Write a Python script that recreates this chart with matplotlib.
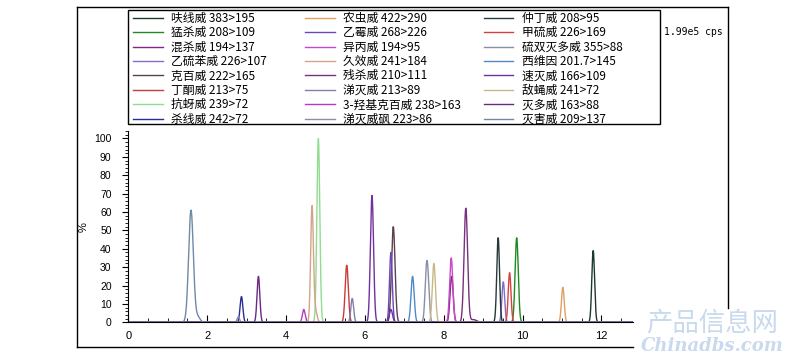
import numpy as np
import matplotlib
matplotlib.use("Agg")
import matplotlib.pyplot as plt
from matplotlib.ticker import MultipleLocator
from matplotlib.lines import Line2D
from matplotlib.patches import Rectangle

# =============================================================================
# MRM chromatogram of 24 carbamate pesticides
# =============================================================================

# -----------------------------
# Compounds (legend order, filled column by column)
# -----------------------------
compounds = [
    "呋线威 383>195", "猛杀威 208>109", "混杀威 194>137", "乙硫苯威 226>107",
    "克百威 222>165", "丁酮威 213>75", "抗蚜威 239>72", "杀线威 242>72",
    "农虫威 422>290", "乙霉威 268>226", "异丙威 194>95", "久效威 241>184",
    "残杀威 210>111", "涕灭威 213>89", "3-羟基克百威 238>163", "涕灭威砜 223>86",
    "仲丁威 208>95", "甲硫威 226>169", "硫双灭多威 355>88", "西维因 201.7>145",
    "速灭威 166>109", "敌蝇威 241>72", "灭多威 163>88", "灭害威 209>137",
]
colors = [
    "#1c3a2c", "#208a20", "#802880", "#8070c8",
    "#5a4050", "#c83c3c", "#90dc90", "#2b2b9a",
    "#e0a060", "#6a48b8", "#c848c8", "#d4a488",
    "#7a3080", "#8080b0", "#b040c0", "#8890a0",
    "#283838", "#d84040", "#8890a8", "#5088c8",
    "#7030a0", "#c8b888", "#6a2a80", "#6f8aa6",
]

# -----------------------------
# Peaks: retention time (min), height (%), width (min)
# -----------------------------
peak_times = [
    [11.79], [9.85], [8.20], [9.51],
    [6.72], [5.54], [4.82], [2.87],
    [11.02], [6.66], [8.19], [4.66, 4.75],
    [8.56, 8.75], [5.68], [4.45], [2.79],
    [9.38], [9.67], [7.57, 7.62], [7.21],
    [6.18, 6.66], [7.75], [3.30], [1.59, 1.76],
]
peak_heights = [
    [39], [46], [25], [22],
    [52], [31], [100], [14],
    [19], [38], [35], [63, 6],
    [62, 1.5], [13], [7], [3],
    [46], [27], [32, 6], [25],
    [69, 7], [32], [25], [61, 3],
]
peak_widths = [
    [0.035], [0.04], [0.04], [0.035],
    [0.045], [0.04], [0.037], [0.035],
    [0.035], [0.035], [0.04], [0.035, 0.04],
    [0.045, 0.08], [0.035], [0.035], [0.03],
    [0.035], [0.035], [0.04, 0.03], [0.04],
    [0.04, 0.04], [0.04], [0.035], [0.06, 0.06],
]

x_ticks = [0, 2, 4, 6, 8, 10, 12]
y_ticks = [0, 10, 20, 30, 40, 50, 60, 70, 80, 90, 100]

plt.rcParams["font.family"] = ["Liberation Sans", "DejaVu Sans"]

fig = plt.figure(figsize=(7.89, 3.58), dpi=100)
ax = fig.add_axes([0.1626, 0.0997, 0.6397, 0.534])

time = np.linspace(0, 12.8, 4000)
handles = []
for name, col, ts, hs, ws in zip(compounds, colors, peak_times, peak_heights, peak_widths):
    trace = np.zeros_like(time)
    for t, h, w in zip(ts, hs, ws):
        trace += h * np.exp(-0.5 * ((time - t) / w) ** 2)
    (ln,) = ax.plot(time, trace, color=col, linewidth=1.0)
    handles.append(ln)

ax.set_xlim(0, 12.8)
ax.set_ylim(0, 104)
ax.set_xticks(x_ticks)
ax.set_yticks(y_ticks)
ax.xaxis.set_minor_locator(MultipleLocator(0.5))
ax.yaxis.set_minor_locator(MultipleLocator(2))
ax.tick_params(axis="x", direction="in", length=5, labelsize=8, pad=6)
ax.tick_params(axis="x", which="minor", direction="in", length=3)
ax.tick_params(axis="y", direction="out", length=4, labelsize=7.5, pad=8)
ax.tick_params(axis="y", which="minor", direction="out", length=2)
for side in ["top", "right"]:
    ax.spines[side].set_visible(False)
ax.spines["left"].set_linewidth(0.8)
ax.spines["bottom"].set_linewidth(0.8)
ax.set_ylabel("%", fontsize=8, labelpad=4)

# Legend: three columns placed one by one, with a shared frame
col_x = [0.1686, 0.3866, 0.6134]
for i, x0 in enumerate(col_x):
    fig.legend(
        handles[8 * i:8 * i + 8], compounds[8 * i:8 * i + 8],
        loc="upper left", bbox_to_anchor=(x0, 0.967), borderaxespad=0,
        frameon=False, borderpad=0,
        prop={"family": ["Noto Sans CJK SC", "DejaVu Sans"], "size": 8.5},
        labelspacing=0.12, handlelength=2.5, handletextpad=0.75,
    )
fig.add_artist(Rectangle((0.1622, 0.6536), 0.6743, 0.3184, transform=fig.transFigure,
                         fill=False, edgecolor="black", linewidth=1.0))

fig.text(0.841, 0.91, "1.99e5 cps", fontsize=7, family="DejaVu Sans Mono", va="center")

# Outer frame (bottom-right corner hidden by watermark)
frame = dict(color="black", linewidth=1.0, transform=fig.transFigure)
fig.add_artist(Line2D([0.0976, 0.9227], [0.980, 0.980], **frame))
fig.add_artist(Line2D([0.0976, 0.0976], [0.980, 0.0307], **frame))
fig.add_artist(Line2D([0.9227, 0.9227], [0.980, 0.1397], **frame))
fig.add_artist(Line2D([0.0976, 0.8023], [0.0307, 0.0307], **frame))

# Watermark
fig.text(0.903, 0.098, "产品信息网", fontsize=19, color="#c9d9ee",
         family=["Noto Sans CJK SC", "DejaVu Sans"], ha="center", va="center")
fig.text(0.903, 0.033, "Chinadbs.com", fontsize=13, color="#c9d9ee",
         family="DejaVu Serif", style="italic", weight="bold", ha="center", va="center")

fig.savefig("out.png", dpi=100)
